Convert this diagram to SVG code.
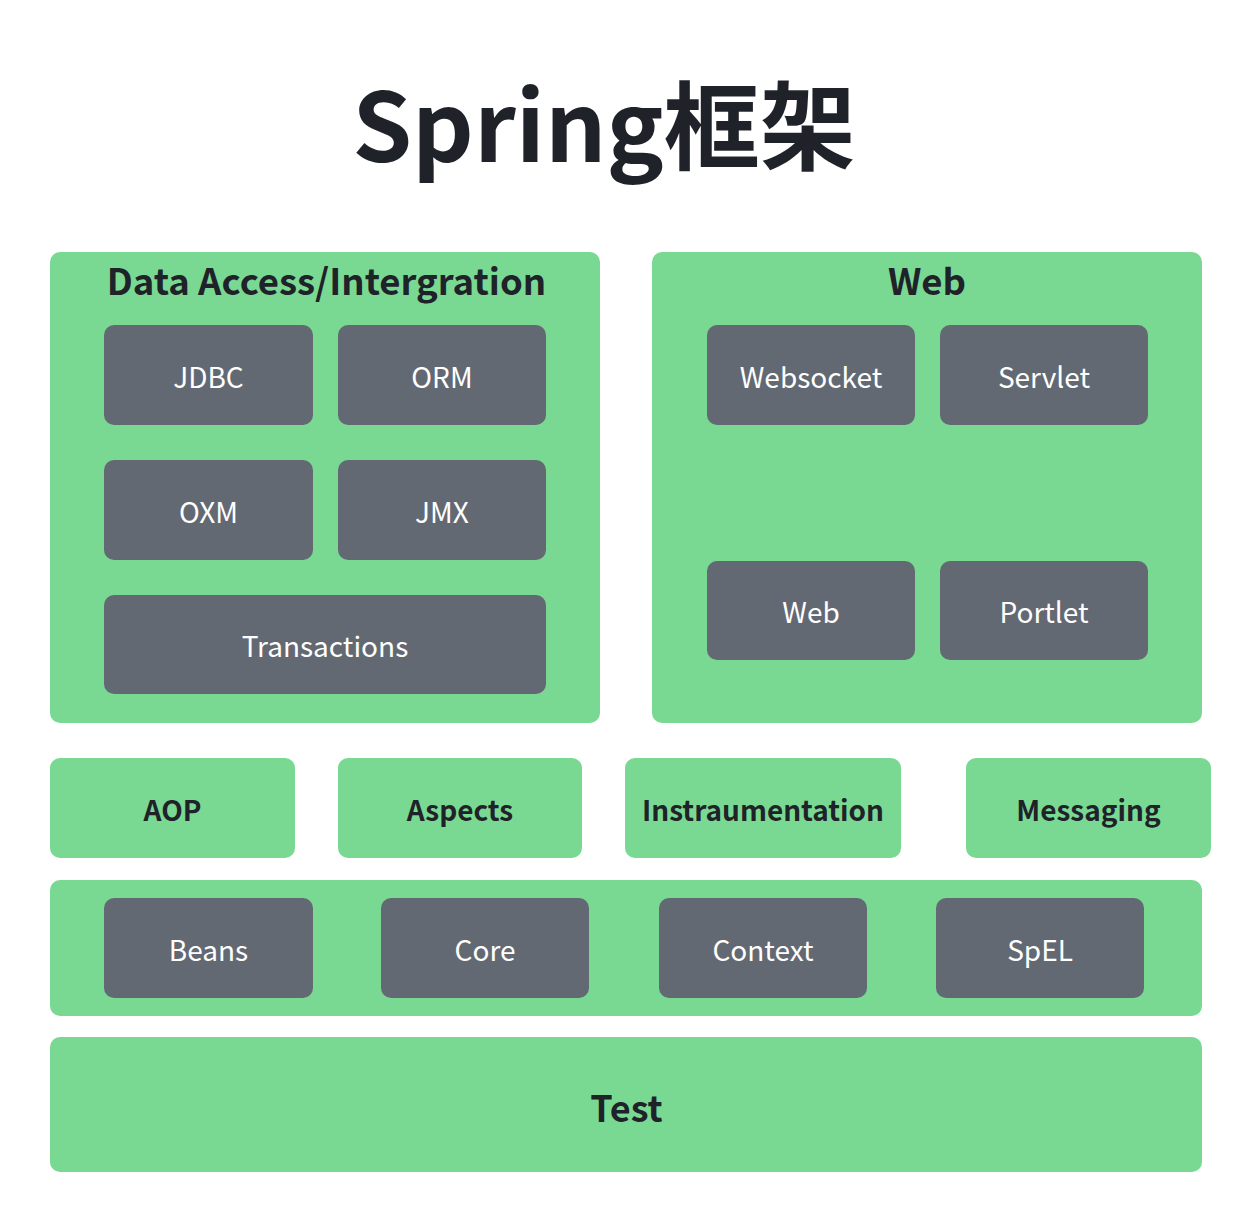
<svg xmlns="http://www.w3.org/2000/svg" width="1258" height="1220" viewBox="0 0 1258 1220">
<style>
.g{fill:#79D993}
.d{fill:#636973}
text{font-family:"Noto Sans CJK SC","Noto Sans",sans-serif;text-anchor:middle}
.w{fill:#FFFFFF;font-size:28px}
.b{fill:#1F2329;font-weight:bold}
</style>
<rect width="1258" height="1220" fill="#FFFFFF"/>
<text class="b" x="604" y="162" font-size="96">Spring框架</text>
<g id="data-access">
<rect class="g" x="50" y="252" width="550" height="471" rx="10"/>
<text class="b" x="326.5" y="295" font-size="36.5">Data Access/Intergration</text>
</g>
<g id="jdbc"><rect class="d" x="104" y="325" width="209" height="100" rx="10"/><text class="w" x="208.5" y="388">JDBC</text></g>
<g id="orm"><rect class="d" x="338" y="325" width="208" height="100" rx="10"/><text class="w" x="442" y="388">ORM</text></g>
<g id="oxm"><rect class="d" x="104" y="460" width="209" height="100" rx="10"/><text class="w" x="208.5" y="523">OXM</text></g>
<g id="jmx"><rect class="d" x="338" y="460" width="208" height="100" rx="10"/><text class="w" x="442" y="523">JMX</text></g>
<g id="transactions"><rect class="d" x="104" y="595" width="442" height="99" rx="10"/><text class="w" x="325" y="657">Transactions</text></g>
<g id="web-group">
<rect class="g" x="652" y="252" width="550" height="471" rx="10"/>
<text class="b" x="927" y="295" font-size="36.5">Web</text>
</g>
<g id="websocket"><rect class="d" x="707" y="325" width="208" height="100" rx="10"/><text class="w" x="811" y="388">Websocket</text></g>
<g id="servlet"><rect class="d" x="940" y="325" width="208" height="100" rx="10"/><text class="w" x="1044" y="388">Servlet</text></g>
<g id="web"><rect class="d" x="707" y="561" width="208" height="99" rx="10"/><text class="w" x="811" y="623">Web</text></g>
<g id="portlet"><rect class="d" x="940" y="561" width="208" height="99" rx="10"/><text class="w" x="1044" y="623">Portlet</text></g>
<g id="aop"><rect class="g" x="50" y="758" width="245" height="100" rx="10"/><text class="b" x="172.5" y="821" font-size="28">AOP</text></g>
<g id="aspects"><rect class="g" x="338" y="758" width="244" height="100" rx="10"/><text class="b" x="460" y="821" font-size="28">Aspects</text></g>
<g id="instrumentation"><rect class="g" x="625" y="758" width="276" height="100" rx="10"/><text class="b" x="763" y="821" font-size="28">Instraumentation</text></g>
<g id="messaging"><rect class="g" x="966" y="758" width="245" height="100" rx="10"/><text class="b" x="1088.5" y="821" font-size="28">Messaging</text></g>
<g id="core-container"><rect class="g" x="50" y="880" width="1152" height="136" rx="10"/></g>
<g id="beans"><rect class="d" x="104" y="898" width="209" height="100" rx="10"/><text class="w" x="208.5" y="961">Beans</text></g>
<g id="core"><rect class="d" x="381" y="898" width="208" height="100" rx="10"/><text class="w" x="485" y="961">Core</text></g>
<g id="context"><rect class="d" x="659" y="898" width="208" height="100" rx="10"/><text class="w" x="763" y="961">Context</text></g>
<g id="spel"><rect class="d" x="936" y="898" width="208" height="100" rx="10"/><text class="w" x="1040" y="961">SpEL</text></g>
<g id="test"><rect class="g" x="50" y="1037" width="1152" height="135" rx="10"/><text class="b" x="626.5" y="1122" font-size="36">Test</text></g>
<g id="connectors"></g>
</svg>
